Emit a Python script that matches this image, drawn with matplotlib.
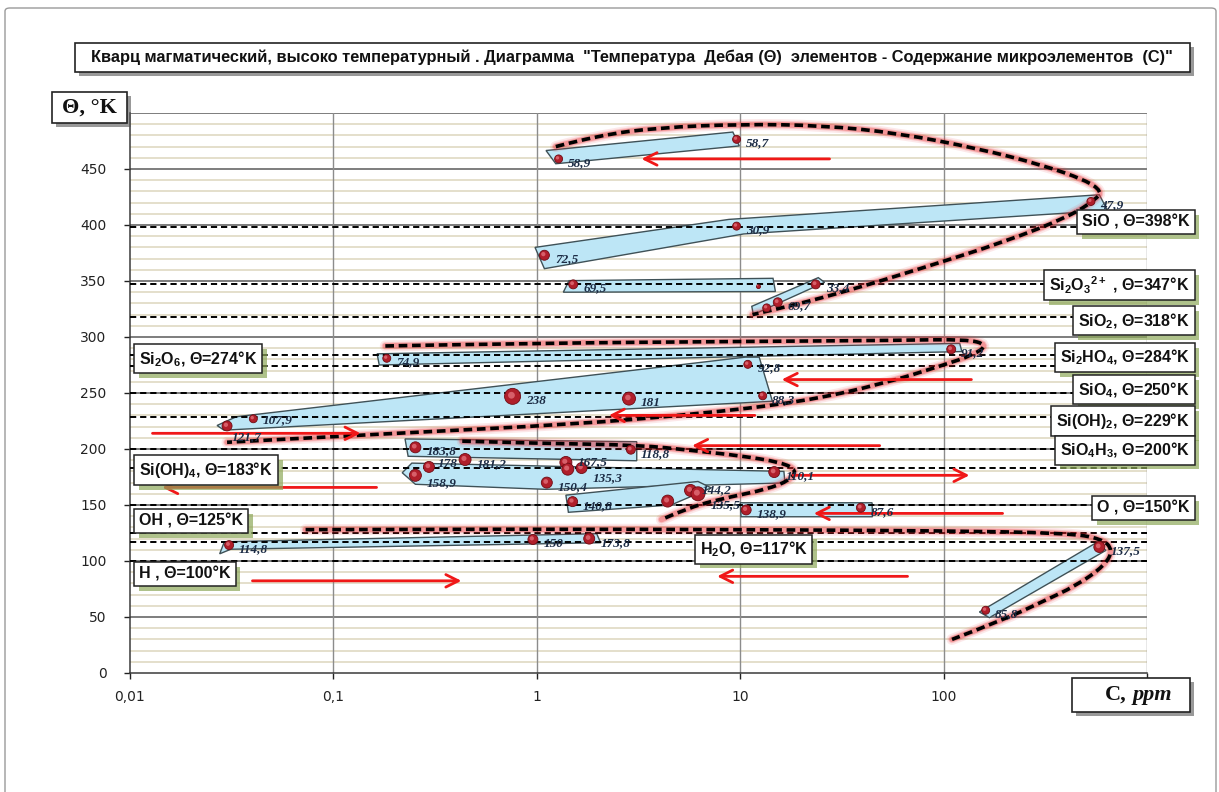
import numpy as np
import matplotlib.pyplot as plt
from matplotlib.path import Path
from matplotlib.patches import PathPatch, Polygon, FancyBboxPatch
from matplotlib.transforms import offset_copy, blended_transform_factory
import matplotlib.patheffects as pe

plt.rcParams['mathtext.fontset'] = 'custom'
plt.rcParams['mathtext.rm'] = 'Liberation Sans:bold'
plt.rcParams['mathtext.default'] = 'rm'

# ---------------------------
# Daten: Punkte (C in ppm, Theta in K) mit Beschriftung
# ---------------------------
pt_C = [9.6, 1.28, 530, 9.6, 1.09, 1.51, 12.3, 23.5, 15.3, 13.5,
        0.183, 109, 10.9, 0.76, 2.84, 12.9, 0.0404, 0.030,
        0.253, 2.9, 0.444, 1.39, 1.42, 1.66, 0.295, 0.253, 1.12, 14.7,
        5.7, 6.2, 1.5, 4.4, 10.7, 39.2,
        0.0307, 0.957, 1.81, 583, 161]
pt_T = [476.5, 459, 421, 399, 373, 347, 345, 347, 331, 326,
        281, 289, 275.6, 247, 245, 247.5, 227, 220.6,
        201.5, 199.4, 190.6, 188, 182, 183, 184, 176.5, 170, 179.4,
        163, 160, 153, 153.5, 145.6, 147.6,
        114.2, 119.2, 120, 112.5, 56]
pt_lbl = ['58,7', '58,9', '47,9', '30,9', '72,5', '69,5', '', '33,4', '69,7', '',
          '74,9', '91,2', '92,8', '238', '181', '88,3', '107,9', '121,7',
          '183,8', '118,8', '181,2', '167,5', '', '135,3', '178', '158,9', '150,4', '110,1',
          '144,2', '135,5', '140,8', '', '138,9', '87,6',
          '114,8', '150', '173,8', '137,5', '85,8']
# Durchmesser der Kugeln in Pixel
dot_px = [8, 8, 8, 8, 10, 9, 4, 9, 9, 8,
          8, 9, 8, 16, 13, 8, 8, 10,
          11, 9, 12, 12, 12, 11, 11, 12, 11, 11,
          12, 14, 10, 12, 10, 9,
          9, 10, 11, 11, 8]
# kleine Verschiebungen fuer dicht liegende Beschriftungen (Punkte)
lbl_nudge = {'167,5': (0, 3), '135,3': (0, -4), '178': (-2, 5), '158,9': (0, -3),
             '144,2': (0, 3), '135,5': (0, -5), '121,7': (-4, -5), '107,9': (0, 2)}

# Felder (Polygone) um die Punktgruppen
poly_C = [[1.11, 9.2, 9.9, 1.24],
          [0.98, 8.8, 583, 640, 10.4, 1.09],
          [1.44, 14.5, 14.9, 1.35],
          [11.4, 24.2, 26, 11.6],
          [0.164, 120, 123, 0.168],
          [0.0268, 0.0333, 10.6, 12.4, 14.4, 0.029],
          [0.225, 3.1, 3.1, 0.233],
          [0.243, 16.4, 16.6, 1.1, 0.253, 0.218],
          [1.39, 6.2, 7.2, 4.57, 1.43],
          [10, 44.5, 44.7, 10.1],
          [0.0276, 0.0291, 1.97, 2.06, 0.0313],
          [150, 571, 628, 168]]
poly_T = [[466.5, 483, 470.6, 454.7],
          [380, 405, 427, 413, 392, 361],
          [350.3, 352.4, 340.6, 340],
          [327.4, 353, 348.8, 320],
          [285, 294.3, 287, 275],
          [221, 228.8, 282, 282, 242.6, 216.8],
          [209, 206.5, 189.5, 193.5],
          [187.4, 180, 169.7, 164, 168.5, 178.8],
          [158.8, 171, 165.3, 150, 143.5],
          [152, 152, 139.5, 139.5],
          [106.4, 117.2, 124.4, 116.3, 110.5],
          [54.5, 117, 109.5, 49.4]]

# Gestrichelte Trendkurven (Stuetzpunkte)
curve_C = [[1.24, 2.0, 4, 10, 25, 60, 150, 300, 500, 600, 560, 420, 200, 80, 35, 18, 11.5],
           [0.18, 1, 10, 60, 130, 165, 140, 100, 50, 20, 6, 1.5, 0.2, 0.03],
           [0.43, 1.05, 3.2, 5.9, 10, 16, 19, 17.5, 13.5, 9.0, 5.7, 4.1],
           [0.073, 1, 10, 100, 400, 600, 680, 620, 450, 300, 200, 110]]
curve_T = [[470, 480, 487, 490, 489, 482, 468, 454, 440, 430, 423, 408, 385, 362, 342, 328, 320],
           [292, 294.5, 296, 297, 298, 293, 284, 275, 258, 242, 231, 222, 214, 206],
           [207, 205, 203.6, 198.5, 194, 188, 181, 172, 164, 157.4, 148.5, 137],
           [128, 128.5, 128, 127, 125, 120, 110, 96, 78, 63, 48, 30]]

# Rote Pfeile: Start-C, End-C, Theta
arr_C0 = [27.5, 137, 11.8, 0.0129, 48.5, 18.2, 0.163, 195, 66.5, 0.04]
arr_C1 = [3.27, 16, 2.26, 0.136, 5.8, 134, 0.0144, 23, 7.7, 0.426]
arr_T = [459, 262, 230, 214, 203, 176.5, 165.7, 142.5, 86.3, 82.3]

# Debye-Temperaturen der Verbindungen
lvl_name = ['SiO ', 'Si$_2$O$_3$$^{2+}$ ', 'SiO$_2$', 'Si$_2$HO$_4$', 'SiO$_4$',
            'Si(OH)$_2$', 'SiO$_4$H$_3$', 'O ', 'Si$_2$O$_6$', 'Si(OH)$_4$',
            'OH ', 'H ', 'H$_2$O']
lvl_T = [398, 347, 318, 284, 250, 229, 200, 150, 274, 183, 125, 100, 117]
# Lage der Kaestchen (x in Achsenanteilen, y in K)
box_x = [1.042] * 8 + [0.009, 0.009, 0.009, 0.009, 0.56]
box_y = [402.7, 346.4, 314.3, 282, 252.7, 225, 199, 147.3, 280.4, 181.3, 135.7, 88.4, 110.7]

xticks = [0.01, 0.1, 1, 10, 100, 1000]
xtick_lbl = ['0,01', '0,1', '1', '10', '100', '']

# ---------------------------
# Plot
# ---------------------------
W, H = 1219, 792
fig = plt.figure(figsize=(W / 100, H / 100), dpi=100)
ax = fig.add_axes([130 / W, 1 - 673 / H, 1017 / W, 560 / H])
ax.set_xscale('log')
ax.set_xlim(0.01, 1000)
ax.set_ylim(0, 500)


def fx(px):
    return px / W


def fy(py):
    return 1 - py / H


# Gitter
for yv in range(10, 500, 10):
    if yv % 50:
        ax.axhline(yv, color='#e4dfcb', lw=1.4, zorder=0)
for yv in range(50, 501, 50):
    ax.axhline(yv, color='#5a5a5a', lw=1.1, zorder=0.5)
for xv in [0.1, 1, 10, 100, 1000]:
    ax.axvline(xv, color='#8c8c8c', lw=1.0, zorder=0.5)

for s in ax.spines.values():
    s.set_color('#3a3a3a')
    s.set_linewidth(1.1)
ax.spines['top'].set_visible(False)
ax.spines['right'].set_visible(False)

ax.set_yticks(range(0, 451, 50))
ax.set_xticks(xticks)
ax.set_xticklabels(xtick_lbl)
ax.xaxis.set_minor_locator(plt.NullLocator())
ax.tick_params(axis='both', labelsize=10, colors='#222222', length=4, width=1)
ax.tick_params(axis='y', pad=13)
ax.tick_params(axis='x', pad=8)

# Felder
for cs, ts in zip(poly_C, poly_T):
    ax.add_patch(Polygon(list(zip(cs, ts)), closed=True, fc='#bde6f6', ec='#3f5157',
                         lw=1.0, zorder=2))

# Niveaulinien
for t in lvl_T:
    ax.axhline(t, color='black', lw=1.4, ls=(0, (3.2, 2.0)), zorder=3)


def smooth_path(cs, ts):
    # quadratische Bezier-Kurve ueber die Mittelpunkte (in log-x)
    lx = np.log10(cs)
    verts = [(cs[0], ts[0])]
    codes = [Path.MOVETO]
    n = len(cs)
    for i in range(1, n - 1):
        if i == n - 2:
            end = (cs[-1], ts[-1])
        else:
            end = (10 ** ((lx[i] + lx[i + 1]) / 2), (ts[i] + ts[i + 1]) / 2)
        verts += [(cs[i], ts[i]), end]
        codes += [Path.CURVE3, Path.CURVE3]
    return Path(verts, codes)


for cs, ts in zip(curve_C, curve_T):
    p = smooth_path(cs, ts)
    for lw, a in [(8, 0.10), (5.5, 0.18), (4, 0.3)]:
        ax.add_patch(PathPatch(p, fill=False, ec='#e8262b', lw=lw, alpha=a,
                               capstyle='round', zorder=4))
    ax.add_patch(PathPatch(p, fill=False, ec='black', lw=2.6, ls=(0, (2.4, 1.3)), zorder=4.5))

# Pfeile
for c0, c1, t in zip(arr_C0, arr_C1, arr_T):
    ax.annotate('', xy=(c1, t), xytext=(c0, t),
                arrowprops=dict(arrowstyle='->,head_length=0.9,head_width=0.45',
                                color='#f01818', lw=2.0, shrinkA=0, shrinkB=0),
                zorder=5)

# Punkte als rote Kugeln
sz = [(d * 0.72) ** 2 for d in dot_px]
ax.scatter(pt_C, pt_T, s=sz, c='#b01e2a', edgecolors='#6e0c14', linewidths=0.6, zorder=6)
hl = offset_copy(ax.transData, fig=fig, x=-0.8, y=0.8, units='points')
ax.scatter(pt_C, pt_T, s=[v * 0.18 for v in sz], c='#e2707a', lw=0, alpha=0.8,
           transform=hl, zorder=6.5)

for c, t, lbl, d in zip(pt_C, pt_T, pt_lbl, dot_px):
    if lbl:
        dx, dy = lbl_nudge.get(lbl, (0, 0))
        ax.annotate(lbl, (c, t), xytext=(d * 0.36 + 4 + dx, -3 + dy), textcoords='offset points',
                    fontsize=9.5, style='italic', weight='bold', color='#1c2c45',
                    family=['Liberation Serif', 'DejaVu Serif'], va='center', zorder=7)

# Beschriftungskaestchen der Niveaus
btr = blended_transform_factory(ax.transAxes, ax.transData)
shadow = [pe.withSimplePatchShadow(offset=(3.5, -3.5), shadow_rgbFace='#8ea85a', alpha=0.7)]
for name, t, bx, by in zip(lvl_name, lvl_T, box_x, box_y):
    ha = 'right' if bx > 1 else 'left'
    txt = ax.text(bx, by, f'{name}, Θ={t}°K', transform=btr, ha=ha, va='center',
                  fontsize=11.5, weight='bold', family=['Liberation Sans', 'DejaVu Sans'],
                  color='#111111', zorder=9, clip_on=False,
                  bbox=dict(boxstyle='square,pad=0.3', fc='white', ec='#222222', lw=1.1))
    txt.get_bbox_patch().set_path_effects(shadow)

# Rahmen der Grafik
fig.patches.append(FancyBboxPatch((fx(5), fy(800)), fx(1211), fy(8) - fy(800),
                                  boxstyle='round,pad=0,rounding_size=0.004',
                                  transform=fig.transFigure, fc='none', ec='#9a9a9a', lw=1.0))

gshadow = [pe.withSimplePatchShadow(offset=(3, -3), shadow_rgbFace='#555555', alpha=0.6)]


def fig_box(x0, y0, x1, y1):
    b = FancyBboxPatch((fx(x0), fy(y1)), fx(x1 - x0), fy(y0) - fy(y1),
                       boxstyle='square,pad=0', transform=fig.transFigure,
                       fc='white', ec='#222222', lw=1.2, zorder=10)
    b.set_path_effects(gshadow)
    fig.patches.append(b)


# Titel
fig_box(75, 43, 1190, 72)
fig.text(fx(632), fy(57.5),
         'Кварц магматический, высоко температурный . Диаграмма  "Температура  Дебая (Θ)  '
         'элементов - Содержание микроэлементов  (С)"',
         ha='center', va='center', fontsize=11.8, weight='bold',
         family=['Liberation Sans', 'DejaVu Sans'], color='#111111', zorder=11)

# Achsentitel
fig_box(52, 92, 127, 123)
fig.text(fx(89.5), fy(107.5), 'Θ, °K', ha='center', va='center', fontsize=16, weight='bold',
         family=['Liberation Serif', 'DejaVu Serif'], color='#111111', zorder=11)
fig_box(1072, 678, 1190, 712)
fig.text(fx(1127), fy(695), 'C,', ha='right', va='center', fontsize=16, weight='bold',
         family=['Liberation Serif', 'DejaVu Serif'], color='#111111', zorder=11)
fig.text(fx(1133), fy(695), 'ppm', ha='left', va='center', fontsize=16, weight='bold',
         style='italic', family=['Liberation Serif', 'DejaVu Serif'], color='#111111', zorder=11)

fig.savefig('out.png', dpi=100)
